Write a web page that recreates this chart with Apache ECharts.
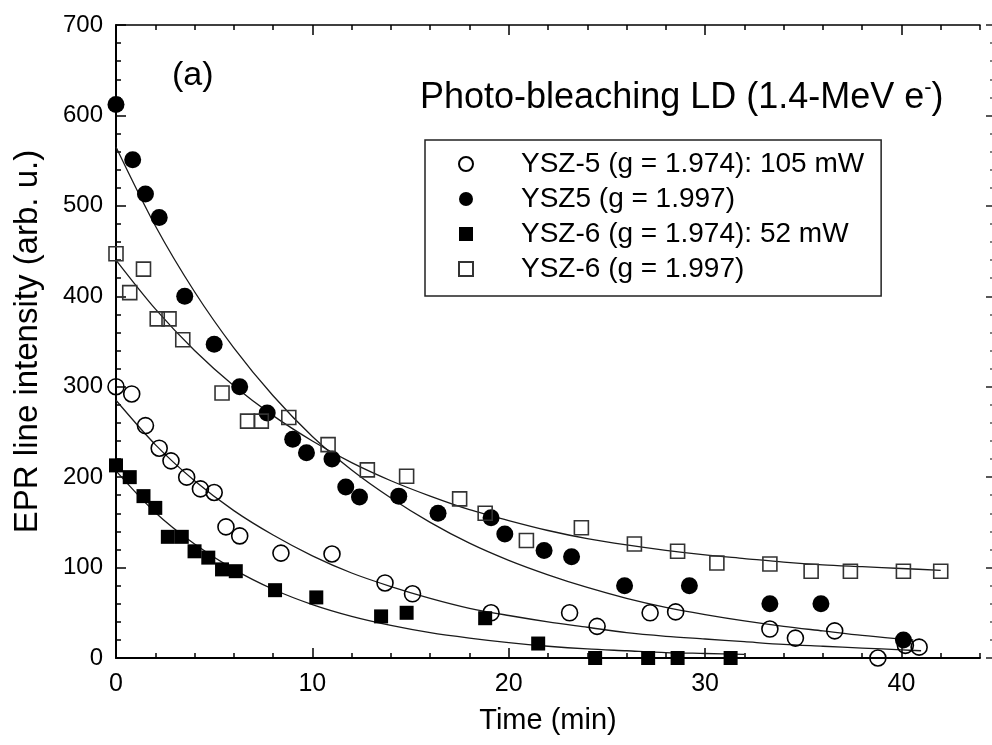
<!DOCTYPE html>
<html><head><meta charset="utf-8">
<script src="https://cdn.jsdelivr.net/npm/echarts@6/dist/echarts.min.js"></script>
<style>html,body{margin:0;padding:0;background:#fff}#c{width:992px;height:745px}</style>
</head><body><div id="c"></div>
<script>
// ---- data ----
const seriesNames = ['YSZ-5 (g = 1.974): 105 mW', 'YSZ5 (g = 1.997)', 'YSZ-6 (g = 1.974): 52 mW', 'YSZ-6 (g = 1.997)'];
const xTickLabels = [0, 10, 20, 30, 40];
const yTickLabels = [0, 100, 200, 300, 400, 500, 600, 700];

const ysz5_1974 = [[0,300],[0.8,292],[1.5,257],[2.2,232],[2.8,218],[3.6,200],[4.3,187],[5.0,183],[5.6,145],[6.3,135],[8.4,116],[11.0,115],[13.7,83],[15.1,71],[19.1,50],[23.1,50],[24.5,35],[27.2,50],[28.5,51],[33.3,32],[34.6,22],[36.6,30],[38.8,0],[40.2,14],[40.9,12]];
const ysz5_1997 = [[0,612],[0.85,551],[1.5,513],[2.2,487],[3.5,400],[5.0,347],[6.3,300],[7.7,271],[9.0,242],[9.7,227],[11.0,220],[11.7,189],[12.4,178],[14.4,179],[16.4,160],[19.1,155],[19.8,137],[21.8,119],[23.2,112],[25.9,80],[29.2,80],[33.3,60],[35.9,60],[40.1,20]];
const ysz6_1974 = [[0,213],[0.7,200],[1.4,179],[2.0,166],[2.64,134],[3.35,134],[4.0,118],[4.7,111],[5.4,98],[6.1,96],[8.1,75],[10.2,67],[13.5,46],[14.8,50],[18.8,44],[21.5,16],[24.4,0],[27.1,0],[28.6,0],[31.3,0]];
const ysz6_1997 = [[0,447],[0.7,404],[1.4,430],[2.1,375],[2.7,375],[3.4,352],[5.4,293],[6.7,262],[7.4,262],[8.8,266],[10.8,236],[12.8,208],[14.8,201],[17.5,176],[18.8,160],[20.9,130],[23.7,144],[26.4,126],[28.6,118],[30.6,105],[33.3,104],[35.4,96],[37.4,96],[40.1,96],[42.0,96]];

// fitted curves
const fit5_1974 = [[0,285],[2,236],[4,196],[6,163],[8,136],[10,113],[12,94],[14,79],[16,66],[18,55],[20,47],[22,40],[24,34],[26,28],[28,24],[30,21],[32,18],[34,15],[36,13],[38,11],[40,9],[41,8]];
const fit5_1997 = [[0,565],[2,478],[4,405],[6,343],[8,290],[10,245],[12,208],[14,177],[16,150],[18,127],[20,108],[22,92],[24,78],[26,66],[28,56],[30,48],[32,41],[34,35],[36,30],[38,25],[40,21],[40.6,20]];
const fit6_1974 = [[0,207],[2,161],[4,126],[6,98],[8,76],[10,59],[12,46],[14,36],[16,28],[18,22],[20,17],[22,13],[24,10],[26,8],[28,6],[30,5],[32,4]];
const fit6_1997 = [[0,440],[2,386],[4,340],[6,301],[8,268],[10,240],[12,216],[14,196],[16,179],[18,164],[20,152],[22,141],[24,132],[26,125],[28,119],[30,114],[32,110],[34,106],[36,103],[38,101],[40,99],[42,97]];

// ---- chart ----
const FONT = "'Liberation Sans', Arial, sans-serif";
const chart = echarts.init(document.getElementById('c'), null, {renderer: 'canvas'});
const gridBox = {left: 116, right: 12, top: 25, bottom: 87, containLabel: false};
const hollow = 'rgba(255,255,255,0)';

function fitLine(data) {
  return {type: 'line', data: data, xAxisIndex: 0, yAxisIndex: 0, smooth: 0.3, showSymbol: false, symbol: 'none',
    lineStyle: {color: '#1a1a1a', width: 1.3}, z: 1, silent: true};
}
const tickStyle = {color: '#000', width: 1.5};
function tickAxis(grid, pos, interval, len, vals) {
  const t = {show: true, inside: true, length: len, lineStyle: tickStyle};
  if (vals) t.customValues = vals;
  return {type: 'value', gridIndex: grid, position: pos, min: 0, max: 44, interval: interval,
    axisLine: {show: false, onZero: false}, axisTick: t, axisLabel: {show: false}, splitLine: {show: false}};
}

chart.setOption({
  animation: false,
  backgroundColor: '#fff',
  grid: [gridBox, Object.assign({}, gridBox)],
  xAxis: [
    {type: 'value', gridIndex: 0, position: 'bottom', min: 0, max: 44, interval: 2,
      axisLine: {onZero: false, lineStyle: {color: '#000', width: 2}},
      axisTick: {show: true, inside: true, length: 5, lineStyle: tickStyle},
      axisLabel: {formatter: v => (xTickLabels.indexOf(v) >= 0 ? String(v) : ''), color: '#000', fontSize: 25, fontFamily: FONT, margin: 14},
      splitLine: {show: false},
      name: 'Time (min)', nameLocation: 'middle', nameGap: 48,
      nameTextStyle: {color: '#000', fontSize: 29, fontFamily: FONT}},
    {type: 'value', gridIndex: 0, position: 'top', min: 0, max: 44, interval: 2,
      axisLine: {show: true, onZero: false, lineStyle: {color: '#000', width: 1.5}},
      axisTick: {show: true, inside: true, length: 5, lineStyle: tickStyle},
      axisLabel: {show: false}, splitLine: {show: false}},
    tickAxis(1, 'bottom', 10, 10, xTickLabels),
    tickAxis(1, 'top', 10, 10, xTickLabels)
  ],
  yAxis: [
    {type: 'value', gridIndex: 0, position: 'left', min: 0, max: 700, interval: 100,
      axisLine: {show: true, onZero: false, lineStyle: {color: '#000', width: 2}},
      axisTick: {show: true, inside: true, length: 10, lineStyle: tickStyle},
      minorTick: {show: true, splitNumber: 5, length: 5, lineStyle: tickStyle},
      axisLabel: {color: '#000', fontSize: 24, fontFamily: FONT, margin: 13,
        formatter: v => (yTickLabels.indexOf(v) >= 0 ? String(v) : '')},
      splitLine: {show: false}, minorSplitLine: {show: false},
      name: 'EPR line intensity (arb. u.)', nameLocation: 'middle', nameGap: 72,
      nameTextStyle: {color: '#000', fontSize: 33, fontFamily: FONT}},
    {type: 'value', gridIndex: 0, position: 'right', offset: 13, min: 0, max: 700, interval: 100,
      axisLine: {show: false, onZero: false},
      axisTick: {show: true, inside: true, length: 7, lineStyle: {color: '#222', width: 1.5}},
      minorTick: {show: true, splitNumber: 5, length: 3, lineStyle: {color: '#555', width: 1.5}},
      axisLabel: {show: false}, splitLine: {show: false}},
    {type: 'value', gridIndex: 1, min: 0, max: 700, show: false, axisLine: {onZero: false}}
  ],
  legend: {
    orient: 'vertical', left: 425, top: 140,
    padding: [10, 17, 13, 33], itemGap: 7,
    itemWidth: 14, itemHeight: 14,
    borderColor: '#222', borderWidth: 1.5, backgroundColor: '#fff',
    data: seriesNames,
    textStyle: {color: '#000', fontSize: 28, fontFamily: FONT, lineHeight: 28, padding: [0, 0, 0, 43]},
    selectedMode: false
  },
  graphic: [
    {type: 'text', left: 172, top: 59, z: 10,
      style: {text: '(a)', font: "34px 'Liberation Sans', Arial, sans-serif", fill: '#000'}},
    {type: 'text', left: 420, top: 77, z: 10,
      style: {text: '{a|Photo-bleaching LD (1.4-MeV e}{s|-}{a|)}', fill: '#000',
        rich: {a: {fontSize: 36, fontFamily: FONT, lineHeight: 42, fill: '#000'},
               s: {fontSize: 22, fontFamily: FONT, lineHeight: 22, verticalAlign: 'top', fill: '#000'}}}}
  ],
  series: [
    fitLine(fit5_1974), fitLine(fit5_1997), fitLine(fit6_1974), fitLine(fit6_1997),
    {name: seriesNames[0], type: 'scatter', data: ysz5_1974, symbol: 'circle', symbolSize: 16, z: 3,
      itemStyle: {color: hollow, borderColor: '#000', borderWidth: 1.6, opacity: 1}},
    {name: seriesNames[1], type: 'scatter', data: ysz5_1997, symbol: 'circle', symbolSize: 17, z: 3,
      itemStyle: {color: '#000', borderColor: '#000', borderWidth: 0, opacity: 1}},
    {name: seriesNames[2], type: 'scatter', data: ysz6_1974, symbol: 'rect', symbolSize: 14, z: 3,
      itemStyle: {color: '#000', borderColor: '#000', borderWidth: 0, opacity: 1}},
    {name: seriesNames[3], type: 'scatter', data: ysz6_1997, symbol: 'rect', symbolSize: 14, z: 3,
      itemStyle: {color: hollow, borderColor: '#333', borderWidth: 1.6, opacity: 1}}
  ]
});
</script></body></html>
